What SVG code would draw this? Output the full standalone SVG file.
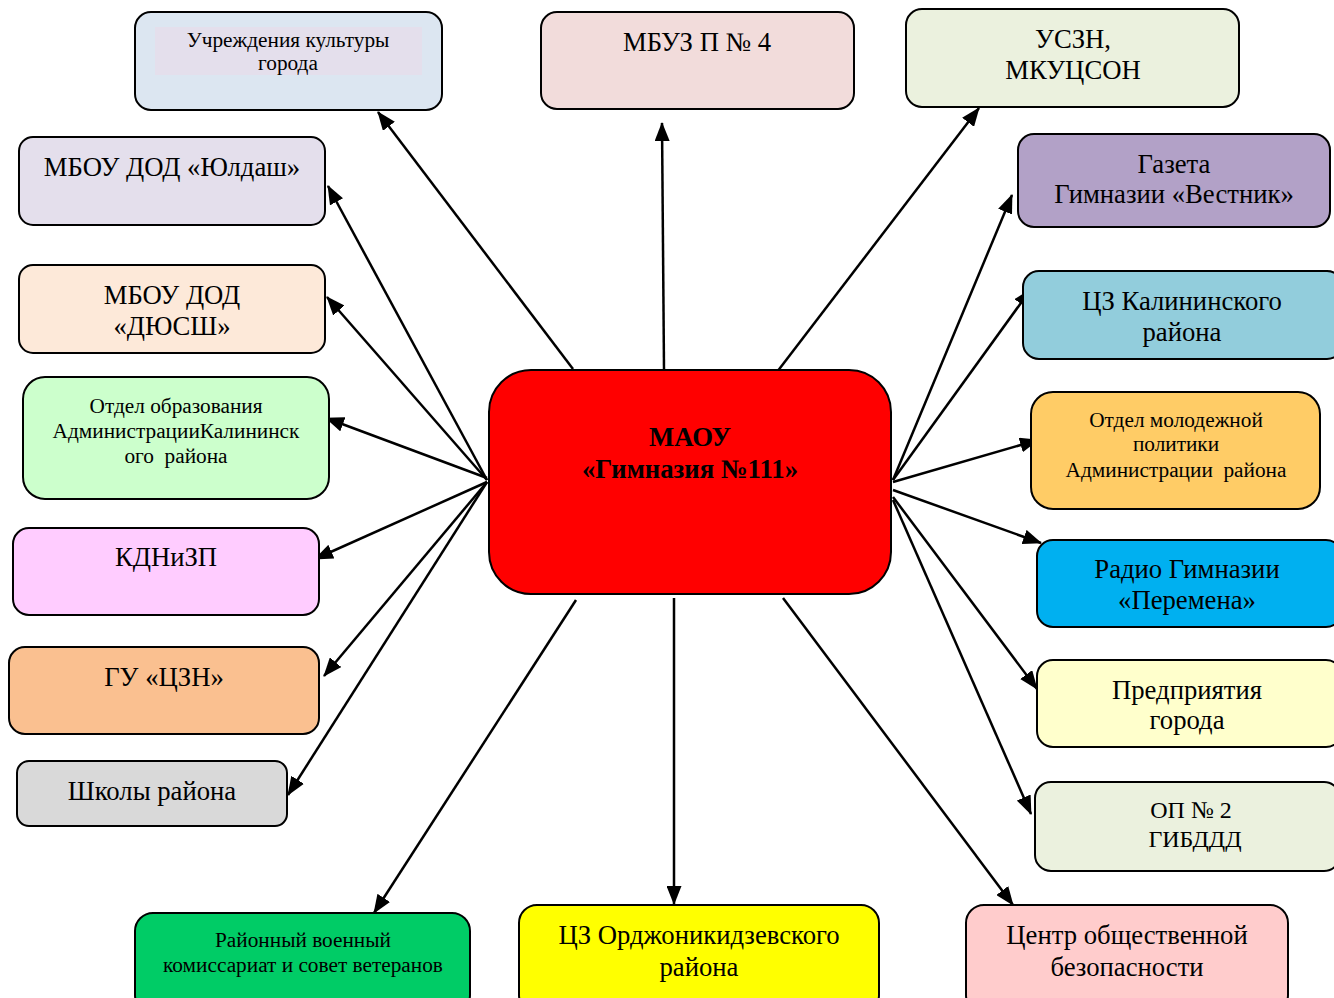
<svg xmlns="http://www.w3.org/2000/svg" width="1334" height="998" viewBox="0 0 1334 998">
<defs>
<marker id="arr" markerUnits="userSpaceOnUse" markerWidth="19" markerHeight="15" viewBox="0 0 19 15" refX="18" refY="7.5" orient="auto">
<path d="M0,0 L19,7.5 L0,15 z" fill="#000"/>
</marker>
<style>
.n{stroke:#000;stroke-width:2}
text{font-family:"Liberation Serif","Times New Roman",serif;fill:#000;text-anchor:middle}
.t24{font-size:26.7px}
.t22{font-size:24px}
.t19{font-size:21.3px}
.pre{white-space:pre}
.c line{stroke:#000;stroke-width:2.5;marker-end:url(#arr)}
</style>
</defs>
<rect width="1334" height="998" fill="#fff"/>
<g class="c" id="connectors">
<line x1="573" y1="369" x2="378" y2="112"/>
<line x1="664" y1="369" x2="662" y2="123"/>
<line x1="777" y1="372" x2="979" y2="108"/>
<line x1="487" y1="480" x2="328" y2="186"/>
<line x1="487" y1="480" x2="327" y2="297"/>
<line x1="487" y1="478" x2="326" y2="418"/>
<line x1="487" y1="482" x2="315" y2="559"/>
<line x1="487" y1="482" x2="324" y2="676"/>
<line x1="487" y1="482" x2="288" y2="795"/>
<line x1="893" y1="480" x2="1012" y2="195"/>
<line x1="893" y1="480" x2="1031" y2="289"/>
<line x1="893" y1="482" x2="1038" y2="440"/>
<line x1="893" y1="490" x2="1041" y2="543"/>
<line x1="893" y1="497" x2="1037" y2="689"/>
<line x1="893" y1="500" x2="1031" y2="814"/>
<line x1="576" y1="600" x2="374" y2="913"/>
<line x1="674" y1="598" x2="674" y2="904"/>
<line x1="783" y1="598" x2="1013" y2="905"/>
</g>
<g id="center">
<rect class="n" x="489" y="370" width="402" height="224" rx="42" fill="#ff0000"/>
<text class="t24" x="690" y="446" font-weight="bold">МАОУ</text>
<text class="t24" x="690" y="478" font-weight="bold">«Гимназия №111»</text>
</g>
<g id="n-kultura">
<rect class="n" x="135" y="12" width="307" height="98" rx="16" fill="#dce6f1"/>
<rect x="155" y="27" width="267" height="48" fill="#e4dfec"/>
<text class="t19" x="288" y="47">Учреждения культуры</text>
<text class="t19" x="288" y="70">города</text>
</g>
<g id="n-mbuz">
<rect class="n" x="541" y="12" width="313" height="97" rx="16" fill="#f2dcdb"/>
<text class="t24" x="697" y="51">МБУЗ П № 4</text>
</g>
<g id="n-uszn">
<rect class="n" x="906" y="9" width="333" height="98" rx="16" fill="#ebf1de"/>
<text class="t24" x="1073" y="48">УСЗН,</text>
<text class="t24" x="1073" y="79">МКУЦСОН</text>
</g>
<g id="n-yuldash">
<rect class="n" x="19" y="137" width="306" height="88" rx="14" fill="#e4dfec"/>
<text class="t24" x="172" y="176">МБОУ ДОД «Юлдаш»</text>
</g>
<g id="n-gazeta">
<rect class="n" x="1018" y="134" width="312" height="93" rx="16" fill="#b2a1c7"/>
<text class="t24" x="1174" y="173">Газета</text>
<text class="t24" x="1174" y="203">Гимназии «Вестник»</text>
</g>
<g id="n-dyussh">
<rect class="n" x="19" y="265" width="306" height="88" rx="14" fill="#fde9d9"/>
<text class="t24" x="172" y="304">МБОУ ДОД</text>
<text class="t24" x="172" y="335">«ДЮСШ»</text>
</g>
<g id="n-czkalin">
<rect class="n" x="1023" y="271" width="320" height="88" rx="16" fill="#92cddc"/>
<text class="t24" x="1182" y="310">ЦЗ Калининского</text>
<text class="t24" x="1182" y="341">района</text>
</g>
<g id="n-otdelobr">
<rect class="n" x="23" y="377" width="306" height="122" rx="22" fill="#ccffcc"/>
<text class="t19" x="176" y="413">Отдел образования</text>
<text class="t19" x="176" y="438">АдминистрацииКалининск</text>
<text class="t19 pre" x="176" y="463">ого  района</text>
</g>
<g id="n-otdelmol">
<rect class="n" x="1031" y="392" width="289" height="117" rx="22" fill="#ffcc66"/>
<text class="t19" x="1176" y="427">Отдел молодежной</text>
<text class="t19" x="1176" y="451">политики</text>
<text class="t19 pre" x="1176" y="477">Администрации  района</text>
</g>
<g id="n-kdnizp">
<rect class="n" x="13" y="528" width="306" height="87" rx="16" fill="#ffccff"/>
<text class="t24" x="166" y="566">КДНиЗП</text>
</g>
<g id="n-radio">
<rect class="n" x="1037" y="540" width="305" height="87" rx="16" fill="#00b0f0"/>
<text class="t24" x="1187" y="578">Радио Гимназии</text>
<text class="t24" x="1187" y="609">«Перемена»</text>
</g>
<g id="n-czn">
<rect class="n" x="9" y="647" width="310" height="87" rx="16" fill="#fac090"/>
<text class="t24" x="164" y="686">ГУ «ЦЗН»</text>
</g>
<g id="n-predpr">
<rect class="n" x="1037" y="660" width="305" height="87" rx="16" fill="#ffffcc"/>
<text class="t24" x="1187" y="699">Предприятия</text>
<text class="t24" x="1187" y="729">города</text>
</g>
<g id="n-shkoly">
<rect class="n" x="17" y="761" width="270" height="65" rx="12" fill="#d9d9d9"/>
<text class="t24" x="152" y="800">Школы района</text>
</g>
<g id="n-op2">
<rect class="n" x="1035" y="782" width="305" height="89" rx="16" fill="#ebf1de"/>
<text class="t22" x="1191" y="818">ОП № 2</text>
<text class="t22" x="1195" y="847">ГИБДДД</text>
</g>
<g id="n-voenkom">
<rect class="n" x="135" y="913" width="335" height="100" rx="18" fill="#00cc66"/>
<text class="t19" x="303" y="947">Районный военный</text>
<text class="t19" x="303" y="972">комиссариат и совет ветеранов</text>
</g>
<g id="n-czordzh">
<rect class="n" x="519" y="905" width="360" height="108" rx="18" fill="#ffff00"/>
<text class="t24" x="699" y="944">ЦЗ Орджоникидзевского</text>
<text class="t24" x="699" y="976">района</text>
</g>
<g id="n-centr">
<rect class="n" x="966" y="905" width="322" height="108" rx="18" fill="#ffcccc"/>
<text class="t24" x="1127" y="944">Центр общественной</text>
<text class="t24" x="1127" y="976">безопасности</text>
</g>
</svg>
